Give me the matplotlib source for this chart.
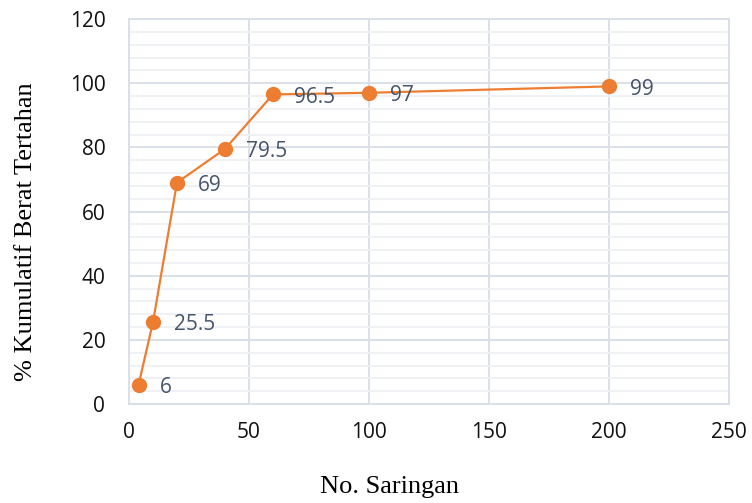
import matplotlib
matplotlib.use("Agg")
import matplotlib.pyplot as plt
from matplotlib.ticker import MultipleLocator

# Sieve numbers and cumulative retained weight percentages
saringan = [4, 10, 20, 40, 60, 100, 200]
kumulatif = [6, 25.5, 69, 79.5, 96.5, 97, 99]
label_teks = ["6", "25.5", "69", "79.5", "96.5", "97", "99"]

x_ticks = [0, 50, 100, 150, 200, 250]
y_ticks = [0, 20, 40, 60, 80, 100, 120]

fig = plt.figure(figsize=(7.52, 5.03), dpi=100)
ax = fig.add_axes([0.1715, 0.1968, 0.7979, 0.7654])

major_col = "#d9dde6"
minor_col = "#eef0f4"

ax.set_xlim(0, 250)
ax.set_ylim(0, 120)
ax.set_xticks(x_ticks)
ax.set_yticks(y_ticks)
ax.yaxis.set_minor_locator(MultipleLocator(4))
ax.grid(which="major", color=major_col, linewidth=1.3, zorder=0)
ax.grid(which="minor", axis="y", color=minor_col, linewidth=1.3, zorder=0)
ax.set_axisbelow(True)
for s in ax.spines.values():
    s.set_color(major_col)
    s.set_linewidth(1.3)
ax.tick_params(which="both", length=0)
ax.tick_params(axis="x", pad=13)
ax.tick_params(axis="y", pad=17)
for lab in ax.get_xticklabels() + ax.get_yticklabels():
    lab.set_fontfamily("Open Sans")
    lab.set_fontsize(15)
    lab.set_color("#111111")

ax.plot(saringan, kumulatif, color="#ed7d31", linewidth=1.6, marker="o",
        markersize=10, markerfacecolor="#ed7d31", markeredgecolor="#ed7d31",
        zorder=3)

for xv, yv, t in zip(saringan, kumulatif, label_teks):
    ax.annotate(t, (xv, yv), xytext=(15, -2), textcoords="offset points",
                ha="left", va="center", fontsize=15, color="#44546a",
                fontfamily="Open Sans", zorder=4)

fig.text(389 / 752, 1 - 493 / 503, "No. Saringan", fontfamily="Liberation Serif",
         fontsize=19, ha="center", va="baseline")
fig.text(26 / 752, 1 - 232 / 503, "% Kumulatif Berat Tertahan",
         fontfamily="Liberation Serif", fontsize=19, rotation=90,
         ha="center", va="center")

fig.savefig("out.png", dpi=100)
